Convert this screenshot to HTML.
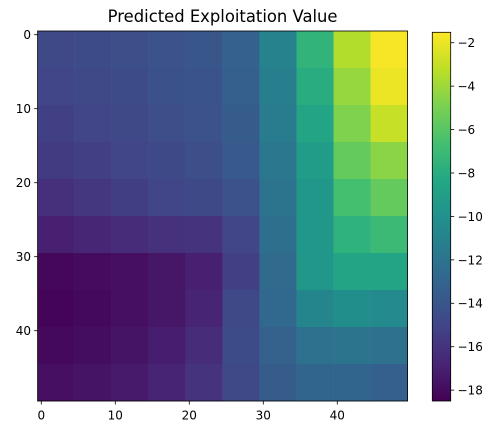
<!DOCTYPE html>
<html><head><meta charset="utf-8"><style>
body{margin:0;background:#fff;}
svg{display:block;font-family:"DejaVu Sans","Liberation Sans",sans-serif;}
</style></head><body>
<svg id="chart" width="499" height="435" viewBox="0 0 499 435">
<text x="222.6" y="22" text-anchor="middle" font-size="16.4" fill="#000">Predicted Exploitation Value</text>
<g id="cells"></g>
<rect x="37.6" y="31" width="370" height="370" fill="none" stroke="#000" stroke-width="0.8"/>
<g id="xaxis"></g>
<g id="yaxis"></g>
<defs><linearGradient id="vir" x1="0" y1="1" x2="0" y2="0"></linearGradient></defs>
<rect x="432.3" y="32.3" width="18.4" height="368.7" fill="url(#vir)" stroke="#000" stroke-width="0.8"/>
<g id="cbaxis"></g>
</svg>
<script>
const gridValues = [
[-14.8,-14.6,-14.4,-14.2,-14.0,-13.3,-11.0,-7.5,-3.5,-1.7],
[-15.0,-14.8,-14.6,-14.3,-14.1,-13.4,-11.2,-8.0,-4.2,-2.0],
[-15.3,-15.0,-14.8,-14.5,-14.2,-13.6,-11.5,-8.6,-4.8,-3.0],
[-15.6,-15.3,-15.0,-14.7,-14.4,-13.8,-11.8,-9.2,-5.6,-4.5],
[-16.2,-15.8,-15.4,-15.0,-14.7,-14.2,-12.0,-9.6,-6.6,-5.6],
[-17.0,-16.7,-16.4,-16.1,-16.0,-15.0,-12.3,-9.6,-7.6,-7.0],
[-18.2,-18.0,-17.8,-17.5,-17.0,-15.3,-12.6,-9.6,-8.6,-8.6],
[-18.3,-18.1,-17.8,-17.5,-16.8,-14.8,-12.8,-10.8,-10.2,-10.5],
[-18.1,-17.9,-17.6,-17.1,-16.4,-14.6,-13.2,-12.2,-12.0,-12.2],
[-17.8,-17.6,-17.3,-16.8,-16.0,-14.8,-13.6,-13.0,-13.0,-13.4]
];
const blockSize = 5;
const xTicks = [0,10,20,30,40];
const yTicks = [0,10,20,30,40];
const cbTicks = [-2,-4,-6,-8,-10,-12,-14,-16,-18];
const vmin = -18.5, vmax = -1.52;

const NS="http://www.w3.org/2000/svg";
const stops=["#440154","#482475","#414487","#355f8d","#2a788e","#21918c","#22a884","#44bf70","#7ad151","#bddf26","#fde725"];
function hex(h){return [1,3,5].map(i=>parseInt(h.substr(i,2),16));}
function viridis(t){t=Math.max(0,Math.min(1,t));const p=t*10,i=Math.min(9,Math.floor(p)),f=p-i;const a=hex(stops[i]),b=hex(stops[i+1]);return "rgb("+a.map((v,k)=>Math.round(v+(b[k]-v)*f)).join(",")+")";}
const unit=7.4, x0=37.6, y0=31;
const xScale=u=>x0+(u+0.5)*unit;
const yScale=u=>y0+(u+0.5)*unit;
const cbY=v=>401-(v-vmin)/(vmax-vmin)*(401-32.3);

const cells=document.getElementById('cells');
gridValues.forEach((row,r)=>row.forEach((v,c)=>{
  const el=document.createElementNS(NS,'rect');
  el.setAttribute('x',x0+c*blockSize*unit);
  el.setAttribute('y',y0+r*blockSize*unit);
  el.setAttribute('width',blockSize*unit+0.3);
  el.setAttribute('height',blockSize*unit+0.3);
  el.setAttribute('fill',viridis((v-vmin)/(vmax-vmin)));
  
  
  cells.appendChild(el);
}));

const g=document.getElementById('vir');
stops.forEach((s,i)=>{const st=document.createElementNS(NS,'stop');st.setAttribute('offset',i/10);st.setAttribute('stop-color',s);g.appendChild(st);});

const xa=document.getElementById('xaxis');
xTicks.forEach(t=>{
  const x=xScale(t);
  const l=document.createElementNS(NS,'line');
  l.setAttribute('x1',x);l.setAttribute('x2',x);l.setAttribute('y1',401);l.setAttribute('y2',404.5);l.setAttribute('stroke','#000');l.setAttribute('stroke-width','0.8');
  
  
  xa.appendChild(l);
  const tx=document.createElementNS(NS,'text');
  tx.setAttribute('x',x);tx.setAttribute('y',419.5);tx.setAttribute('text-anchor','middle');tx.setAttribute('font-size','12');tx.textContent=t;
  
  
  xa.appendChild(tx);
});
const ya=document.getElementById('yaxis');
yTicks.forEach(t=>{
  const y=yScale(t);
  const l=document.createElementNS(NS,'line');
  l.setAttribute('x1',34.1);l.setAttribute('x2',37.6);l.setAttribute('y1',y);l.setAttribute('y2',y);l.setAttribute('stroke','#000');l.setAttribute('stroke-width','0.8');
  
  
  ya.appendChild(l);
  const tx=document.createElementNS(NS,'text');
  tx.setAttribute('x',31);tx.setAttribute('y',y+4.4);tx.setAttribute('text-anchor','end');tx.setAttribute('font-size','12');tx.textContent=t;
  
  
  ya.appendChild(tx);
});
const ca=document.getElementById('cbaxis');
cbTicks.forEach(t=>{
  const y=cbY(t);
  const l=document.createElementNS(NS,'line');
  l.setAttribute('x1',450.7);l.setAttribute('x2',454.2);l.setAttribute('y1',y);l.setAttribute('y2',y);l.setAttribute('stroke','#000');l.setAttribute('stroke-width','0.8');
  
  
  ca.appendChild(l);
  const tx=document.createElementNS(NS,'text');
  tx.setAttribute('x',457.5);tx.setAttribute('y',y+4.4);tx.setAttribute('font-size','12');tx.textContent='\u2212'+Math.abs(t);
  
  
  ca.appendChild(tx);
});
</script>
</body></html>
